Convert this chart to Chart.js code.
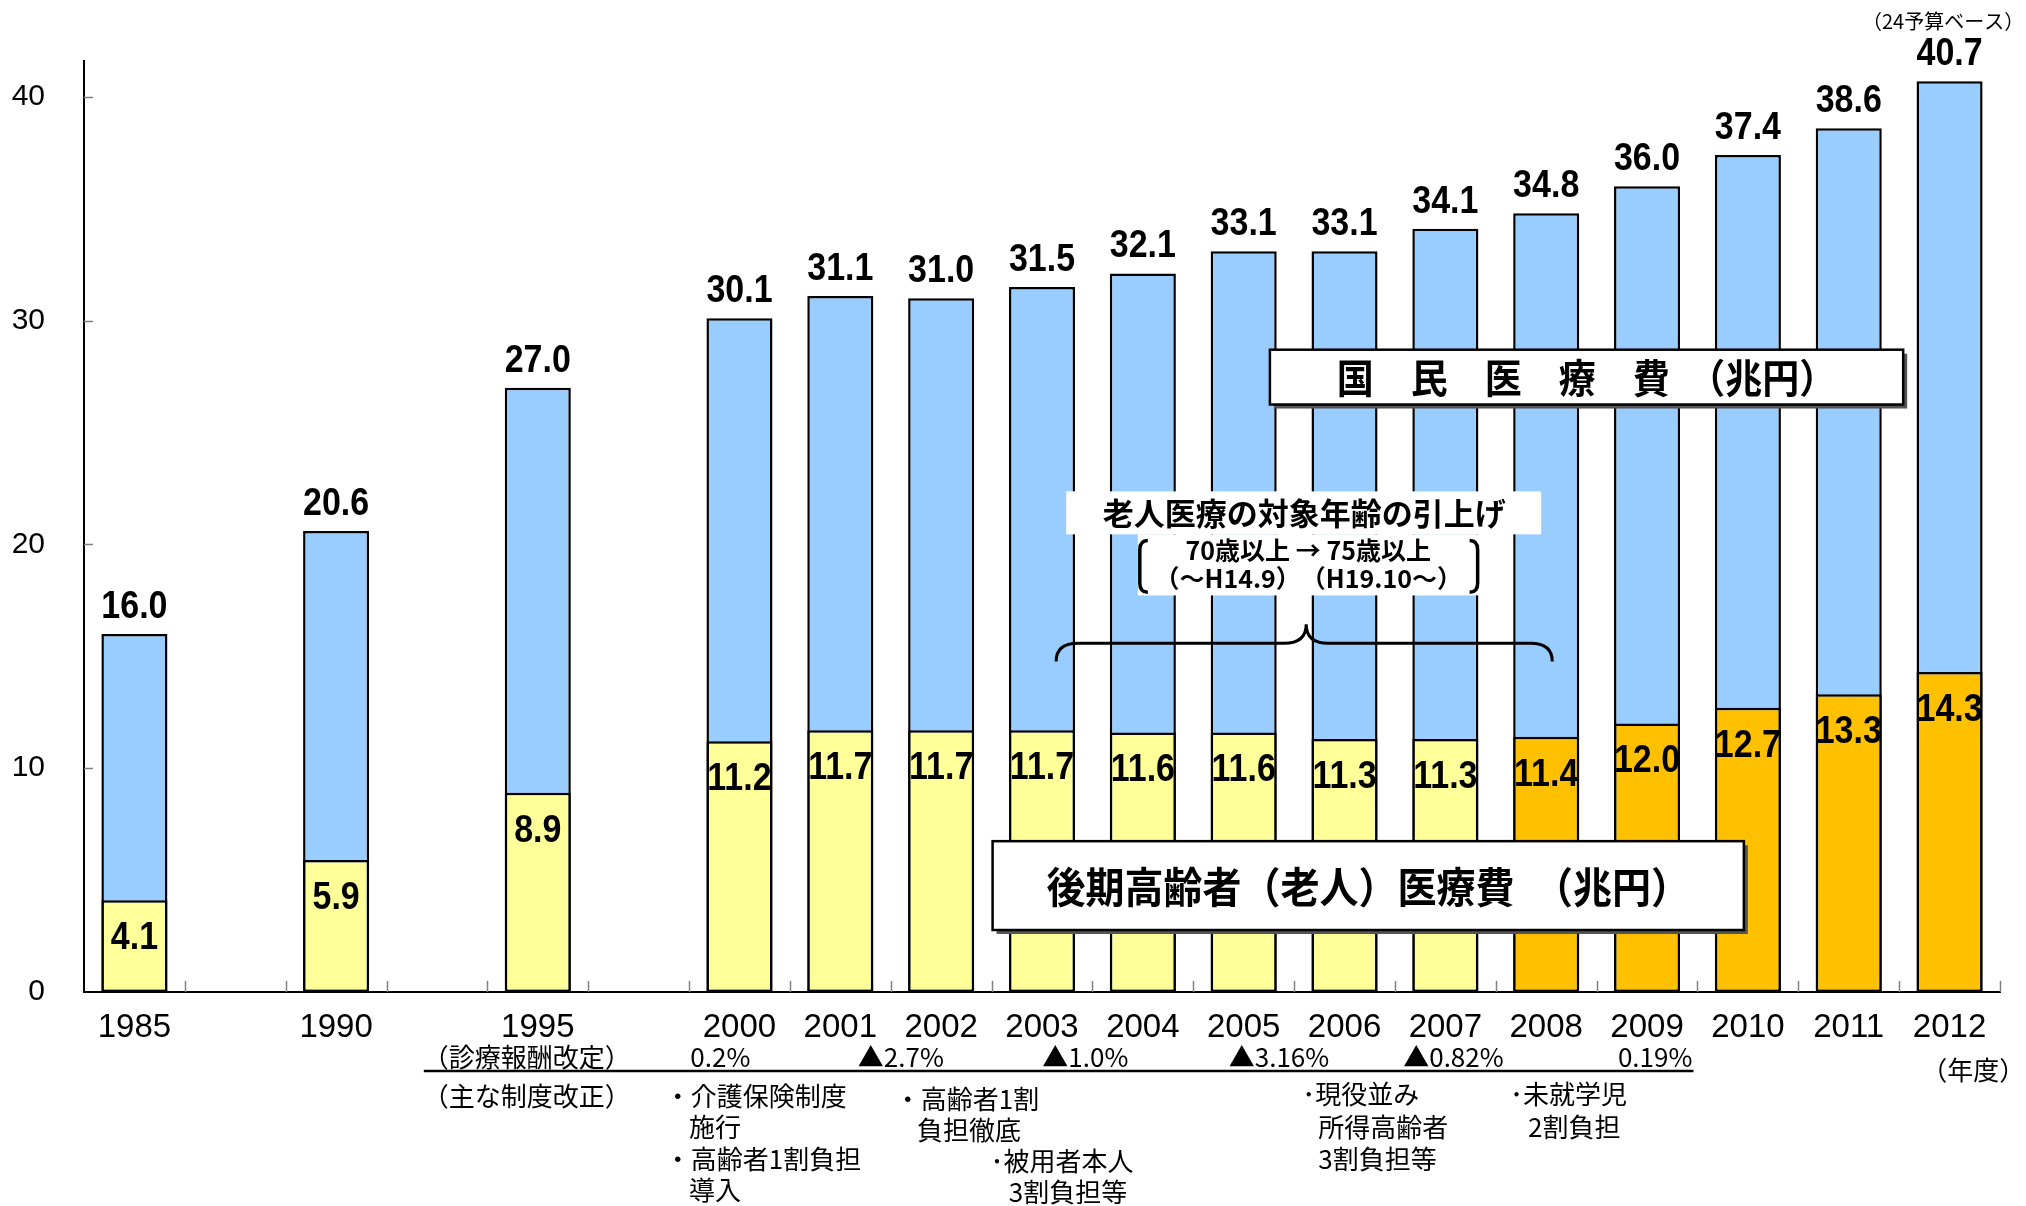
<!DOCTYPE html>
<html><head><meta charset="utf-8">
<script src="https://cdn.jsdelivr.net/npm/chart.js@4.4.1/dist/chart.umd.min.js"></script>
<style>html,body{margin:0;padding:0;background:#fff;}#wrap{width:2026px;height:1206px;}</style>
</head><body><div id="wrap"><canvas id="c" width="2026" height="1206"></canvas></div>
<script>
// ---- data ----
const categories = ['1985','','1990','','1995','','2000','2001','2002','2003','2004','2005','2006','2007','2008','2009','2010','2011','2012'];
const totalCost   = [16.0,null,20.6,null,27.0,null,30.1,31.1,31.0,31.5,32.1,33.1,33.1,34.1,34.8,36.0,37.4,38.6,40.7];
const elderlyCost = [4.1,null,5.9,null,8.9,null,11.2,11.7,11.7,11.7,11.6,11.6,11.3,11.3,11.4,12.0,12.7,13.3,14.3];
const yTicks = [0,10,20,30,40];
const feeRevisionTexts = ['0.2%','▲2.7%','▲1.0%','▲3.16%','▲0.82%','0.19%'];

// ---- layout / styles ----
const JP = '"Noto Sans CJK JP", "Noto Sans", sans-serif';
const LAT = '"Liberation Sans", Arial, sans-serif';
const feeRevisionPos = [5.81, 7.60, 9.43, 11.35, 13.08, 15.08];

const notes = [
  {t:'（24予算ベース）', i:18.74, v:43.35, a:'right', f:'20px '+JP},
  {t:'（診療報酬改定）', i:2.86, v:-2.9, a:'left', f:'26px '+JP},
  {t:'（主な制度改正）', i:2.86, v:-4.64, a:'left', f:'26px '+JP},
  {t:'・介護保険制度', i:5.26, v:-4.64, a:'left', f:'26px '+JP},
  {t:'施行', i:5.50, v:-6.03, a:'left', f:'26px '+JP},
  {t:'・高齢者1割負担', i:5.26, v:-7.46, a:'left', f:'26px '+JP},
  {t:'導入', i:5.50, v:-8.84, a:'left', f:'26px '+JP},
  {t:'・高齢者1割', i:7.54, v:-4.78, a:'left', f:'26px '+JP},
  {t:'負担徹底', i:7.76, v:-6.16, a:'left', f:'26px '+JP},
  {t:'･被用者本人', i:8.49, v:-7.54, a:'left', f:'26px '+JP},
  {t:'3割負担等', i:8.67, v:-8.93, a:'left', f:'26px '+JP},
  {t:'･現役並み', i:11.58, v:-4.55, a:'left', f:'26px '+JP},
  {t:'所得高齢者', i:11.74, v:-6.03, a:'left', f:'26px '+JP},
  {t:'3割負担等', i:11.74, v:-7.46, a:'left', f:'26px '+JP},
  {t:'･未就学児', i:13.64, v:-4.55, a:'left', f:'26px '+JP},
  {t:'2割負担', i:13.82, v:-6.03, a:'left', f:'26px '+JP},
  {t:'（年度）', i:17.72, v:-3.48, a:'left', f:'26px '+JP}
];

function stretchText(ctx, text, x, y, sx, sy){
  ctx.save(); ctx.translate(x, y); ctx.scale(sx, sy); ctx.fillText(text, 0, 0); ctx.restore();
}

const annot = {
  id:'annot',
  afterDatasetsDraw(chart){
    const ctx = chart.ctx, xs = chart.scales.x, ys = chart.scales.y, ca = chart.chartArea;
    const X = i => xs.getPixelForValue(i);
    const Y = v => ys.getPixelForValue(v);
    ctx.save();
    // inward tick marks
    ctx.strokeStyle = '#808080'; ctx.lineWidth = 1.5;
    for (let k = 1; k <= categories.length; k++) {
      const x = Math.round(X(k - 0.5)) + 0.5;
      ctx.beginPath(); ctx.moveTo(x, ca.bottom); ctx.lineTo(x, ca.bottom - 11); ctx.stroke();
    }
    yTicks.forEach(v => { if (v === 0) return; const y = Math.round(Y(v)) + 0.5;
      ctx.beginPath(); ctx.moveTo(ca.left, y); ctx.lineTo(ca.left + 9, y); ctx.stroke(); });

    // value labels
    ctx.fillStyle = '#000'; ctx.textAlign = 'center'; ctx.textBaseline = 'middle';
    ctx.font = 'bold 34px ' + LAT;
    totalCost.forEach((v, i) => { if (v == null) return; stretchText(ctx, v.toFixed(1), X(i), Y(v) - 27, 1, 1.15); });
    elderlyCost.forEach((v, i) => { if (v == null) return; stretchText(ctx, v.toFixed(1), X(i), Y(v) + 38, 1, 1.15); });

    // boxes with shadow
    function box(i0, i1, v0, v1, text, font){
      const x0 = X(i0), x1 = X(i1), y0 = Y(v0), y1 = Y(v1);
      ctx.fillStyle = '#555'; ctx.fillRect(x0 + 4, y0 + 4, x1 - x0, y1 - y0);
      ctx.fillStyle = '#fff'; ctx.fillRect(x0, y0, x1 - x0, y1 - y0);
      ctx.strokeStyle = '#000'; ctx.lineWidth = 2.5; ctx.strokeRect(x0, y0, x1 - x0, y1 - y0);
      ctx.fillStyle = '#000'; ctx.font = font; ctx.textAlign = 'center'; ctx.textBaseline = 'middle';
      stretchText(ctx, text, (x0 + x1) / 2, (y0 + y1) / 2 + 1, 1, 1.08);
    }
    box(11.26, 17.54, 28.7, 26.25, '国　民　医　療　費　（兆円）', 'bold 37px ' + JP);
    box(8.51, 15.96, 6.74, 2.77, '後期高齢者（老人）医療費　（兆円）', 'bold 39px ' + JP);

    // age-threshold note
    ctx.fillStyle = '#fff';
    ctx.fillRect(X(9.24), Y(22.37), X(13.95) - X(9.24), Y(20.45) - Y(22.37));
    ctx.fillRect(X(9.95), Y(20.45), X(13.34) - X(9.95), Y(17.72) - Y(20.45));
    ctx.fillStyle = '#000'; ctx.textAlign = 'center'; ctx.textBaseline = 'middle';
    ctx.font = 'bold 31px ' + JP;
    ctx.fillText('老人医療の対象年齢の引上げ', X(11.6), Y(21.41));
    ctx.font = 'bold 25px ' + JP;
    ctx.fillText('70歳以上 → 75歳以上', X(11.64), Y(19.73));
    ctx.fillText('（～H14.9）　（H19.10～）', X(11.64), Y(18.48));
    // brackets
    ctx.strokeStyle = '#000'; ctx.lineWidth = 3.5;
    const bl = X(9.97), br = X(13.32), bt = Y(20.18), bb = Y(17.86);
    ctx.beginPath(); ctx.moveTo(bl + 8, bt); ctx.quadraticCurveTo(bl, bt, bl, bt + 9); ctx.lineTo(bl, bb - 9); ctx.quadraticCurveTo(bl, bb, bl + 8, bb); ctx.stroke();
    ctx.beginPath(); ctx.moveTo(br - 8, bt); ctx.quadraticCurveTo(br, bt, br, bt + 9); ctx.lineTo(br, bb - 9); ctx.quadraticCurveTo(br, bb, br - 8, bb); ctx.stroke();
    // curly brace
    const xL = X(9.14), xM = X(11.62), xR = X(14.06), yE = Y(14.77), yH = Y(15.58), yP = Y(16.43), r = 22;
    ctx.lineWidth = 3;
    ctx.beginPath();
    ctx.moveTo(xL, yE); ctx.quadraticCurveTo(xL, yH, xL + r, yH); ctx.lineTo(xM - r, yH); ctx.quadraticCurveTo(xM, yH, xM, yP);
    ctx.quadraticCurveTo(xM, yH, xM + r, yH); ctx.lineTo(xR - r, yH); ctx.quadraticCurveTo(xR, yH, xR, yE);
    ctx.stroke();

    // below-axis notes
    ctx.fillStyle = '#000'; ctx.textBaseline = 'middle';
    ctx.font = '26px ' + JP; ctx.textAlign = 'center';
    feeRevisionTexts.forEach((t, k) => ctx.fillText(t, X(feeRevisionPos[k]), Y(-2.9)));
    ctx.strokeStyle = '#000'; ctx.lineWidth = 2.5;
    ctx.beginPath(); ctx.moveTo(X(2.87), Y(-3.53)); ctx.lineTo(X(15.46), Y(-3.53)); ctx.stroke();
    notes.forEach(n => { ctx.font = n.f; ctx.textAlign = n.a; ctx.fillText(n.t, X(n.i), Y(n.v)); });
    ctx.restore();
  }
};

new Chart(document.getElementById('c').getContext('2d'), {
  type: 'bar',
  data: {
    labels: categories,
    datasets: [
      {label:'後期高齢者（老人）医療費', data: elderlyCost,
       backgroundColor: categories.map(c => (+c >= 2008 ? '#FFC000' : '#FFFF99')),
       borderColor:'#000', borderWidth:2.5, borderSkipped:false, grouped:false, barPercentage:0.655, categoryPercentage:1},
      {label:'国民医療費', data: totalCost, backgroundColor:'#99CCFF',
       borderColor:'#000', borderWidth:2.5, borderSkipped:false, grouped:false, barPercentage:0.655, categoryPercentage:1}
    ]
  },
  options: {
    responsive:false, animation:false, devicePixelRatio:1,
    layout:{padding:{left:0, right:26, top:61, bottom:0}},
    plugins:{legend:{display:false}, tooltip:{enabled:false}},
    scales:{
      x:{grid:{display:false, drawTicks:false}, border:{color:'#000', width:2},
         ticks:{font:{family:LAT, size:33}, color:'#000', padding:16, autoSkip:false, maxRotation:0},
         afterFit(s){ s.height = 214; }},
      y:{min:0, max:41.6, grid:{display:false, drawTicks:false}, border:{color:'#000', width:2},
         ticks:{stepSize:10, includeBounds:false, font:{family:LAT, size:30}, color:'#000', padding:39},
         afterFit(s){ s.width = 84; }}
    }
  },
  plugins:[annot]
});
</script></body></html>
